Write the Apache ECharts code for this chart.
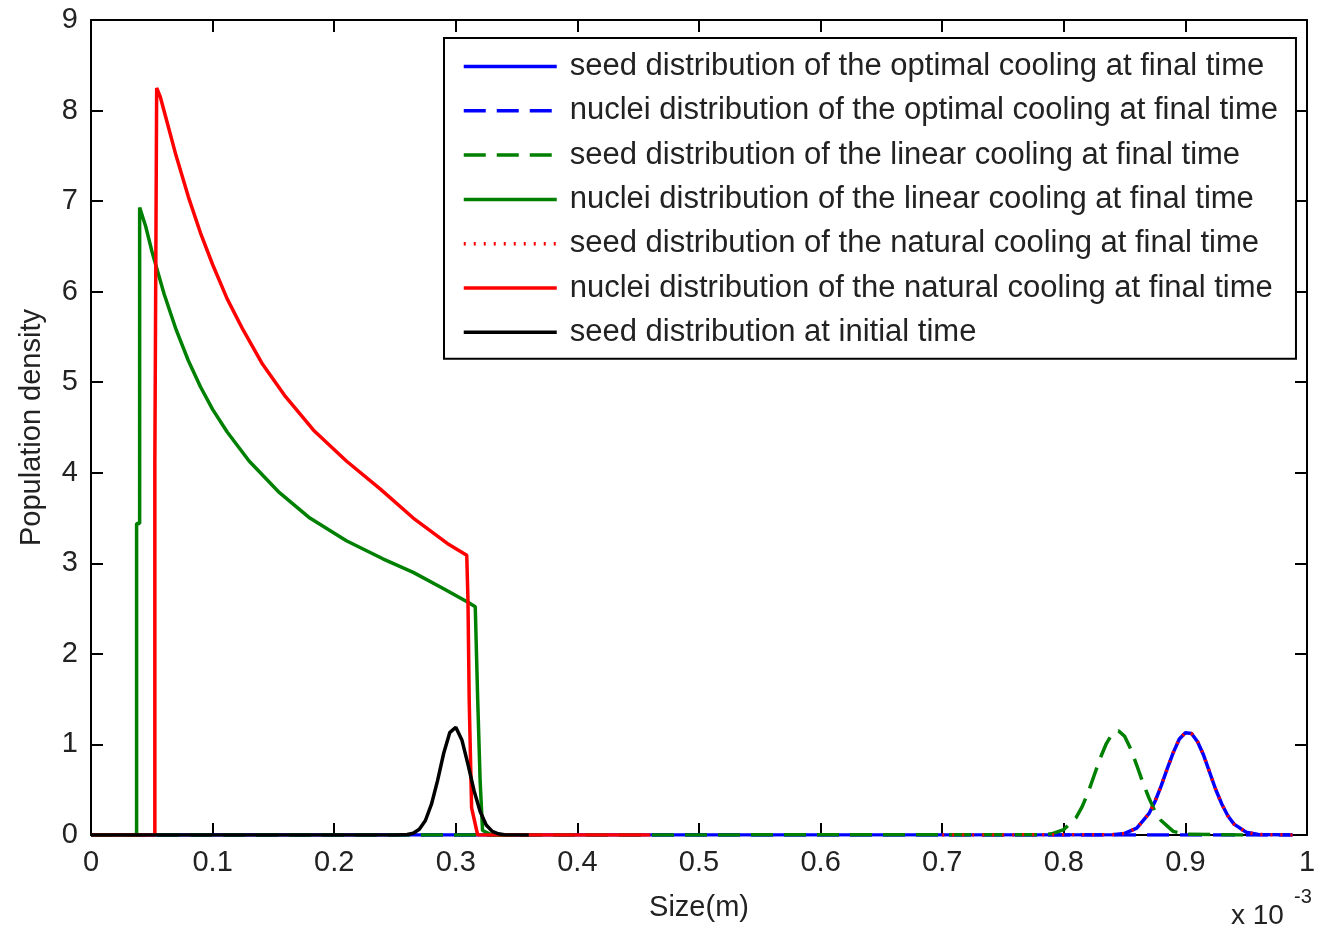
<!DOCTYPE html>
<html>
<head>
<meta charset="utf-8">
<script src="https://cdn.jsdelivr.net/npm/echarts@6/dist/echarts.min.js"></script>
<style>
html,body{margin:0;padding:0;background:#fff;}
#chart{width:1317px;height:933px;}
</style>
</head>
<body>
<div id="chart"></div>
<script>
// x values in units of 1e-3 m (axis shows "x 10^-3")
var xTicks = [0, 0.1, 0.2, 0.3, 0.4, 0.5, 0.6, 0.7, 0.8, 0.9, 1];
var yTicks = [0, 1, 2, 3, 4, 5, 6, 7, 8, 9];

var seriesNames = [
  'seed distribution of the optimal cooling at final time',
  'nuclei distribution of the optimal cooling at final time',
  'seed distribution of the linear cooling at final time',
  'nuclei distribution of the linear cooling at final time',
  'seed distribution of the natural cooling at final time',
  'nuclei distribution of the natural cooling at final time',
  'seed distribution at initial time'
];

var seedOptimal = [[0,0],[0.84,0.003],[0.85,0.018],[0.86,0.075],[0.87,0.235],[0.875,0.37],[0.88,0.54],[0.885,0.73],[0.89,0.91],[0.895,1.06],[0.9,1.13],[0.905,1.12],[0.91,1.03],[0.915,0.88],[0.92,0.69],[0.925,0.50],[0.93,0.34],[0.935,0.21],[0.94,0.12],[0.95,0.03],[0.96,0.006],[0.988,0]];
var nucleiOptimal = [[0,0],[0.988,0]];
var seedLinear = [[0,0],[0.78,0.002],[0.79,0.013],[0.8,0.06],[0.81,0.19],[0.815,0.31],[0.82,0.47],[0.825,0.66],[0.83,0.85],[0.835,1.01],[0.84,1.12],[0.845,1.15],[0.85,1.09],[0.855,0.95],[0.86,0.77],[0.865,0.58],[0.87,0.41],[0.875,0.26],[0.88,0.16],[0.89,0.04],[0.9,0.009],[0.95,0]];
var nucleiLinear = [[0,0],[0.0375,0],[0.0375,3.44],[0.040,3.44],[0.040,6.93],[0.045,6.72],[0.05,6.45],[0.06,5.98],[0.07,5.58],[0.08,5.24],[0.09,4.95],[0.1,4.7],[0.112,4.45],[0.13,4.13],[0.155,3.78],[0.18,3.5],[0.21,3.25],[0.24,3.05],[0.265,2.9],[0.29,2.72],[0.31,2.57],[0.316,2.52],[0.318,1.5],[0.32,0.6],[0.322,0.05],[0.33,0],[0.35,0]];
var seedNatural = [[0.7,0],[0.84,0.003],[0.85,0.018],[0.86,0.075],[0.87,0.235],[0.875,0.37],[0.88,0.54],[0.885,0.73],[0.89,0.91],[0.895,1.06],[0.9,1.13],[0.905,1.12],[0.91,1.03],[0.915,0.88],[0.92,0.69],[0.925,0.50],[0.93,0.34],[0.935,0.21],[0.94,0.12],[0.95,0.03],[0.96,0.006],[0.988,0]];
var nucleiNatural = [[0,0],[0.0525,0],[0.0525,4.1],[0.054,4.1],[0.054,8.25],[0.057,8.15],[0.06,8.0],[0.07,7.5],[0.08,7.05],[0.09,6.65],[0.1,6.3],[0.112,5.92],[0.125,5.58],[0.141,5.2],[0.16,4.84],[0.183,4.47],[0.21,4.13],[0.238,3.82],[0.265,3.5],[0.293,3.22],[0.309,3.09],[0.31,2.6],[0.311,1.5],[0.313,0.3],[0.318,0],[0.46,0]];
var seedInitial = [[0,0],[0.25,0],[0.26,0.006],[0.265,0.02],[0.27,0.064],[0.275,0.16],[0.28,0.34],[0.285,0.60],[0.29,0.90],[0.295,1.13],[0.3,1.19],[0.305,1.05],[0.31,0.78],[0.315,0.49],[0.32,0.26],[0.325,0.11],[0.33,0.04],[0.335,0.013],[0.34,0.003],[0.35,0],[0.36,0]];

var dataSets = [seedOptimal, nucleiOptimal, seedLinear, nucleiLinear, seedNatural, nucleiNatural, seedInitial];
var colors = ['#0000ff', '#0000ff', '#008000', '#008000', '#ff0000', '#ff0000', '#000000'];
var types = ['solid', [22, 11], [22, 11], 'solid', [2, 8], 'solid', 'solid'];

var FONT = '"Liberation Sans", Arial, sans-serif';
var chart = echarts.init(document.getElementById('chart'));

var series = dataSets.map(function (d, i) {
  return {
    name: seriesNames[i],
    type: 'line',
    data: d,
    symbol: 'none',
    showSymbol: false,
    animation: false,
    z: 3 + i,
    lineStyle: { color: colors[i], width: 3.5, type: types[i] },
    itemStyle: { color: colors[i] }
  };
});

function axisCommon() {
  return {
    type: 'value',
    axisLine: { show: true, onZero: false, lineStyle: { color: '#000', width: 2 } },
    axisTick: { show: true, inside: true, length: 12, lineStyle: { color: '#000', width: 2 } },
    splitLine: { show: false }
  };
}

function fmt(list) {
  return function (v) {
    for (var i = 0; i < list.length; i++) if (Math.abs(list[i] - v) < 1e-9) return String(list[i]);
    return '';
  };
}

chart.setOption({
  backgroundColor: '#fff',
  animation: false,
  textStyle: { fontFamily: FONT },
  grid: { left: 91, top: 20, right: 10, bottom: 98, containLabel: false, outerBoundsMode: 'none' },
  xAxis: [
    Object.assign(axisCommon(), {
      min: 0, max: 1, interval: 0.1, position: 'bottom',
      name: 'Size(m)', nameLocation: 'middle', nameGap: 58,
      nameTextStyle: { fontSize: 29, color: '#222', fontFamily: FONT },
      axisLabel: { margin: 13, fontSize: 29, color: '#222', fontFamily: FONT, formatter: fmt(xTicks) }
    }),
    Object.assign(axisCommon(), {
      min: 0, max: 1, interval: 0.1, position: 'top', axisLabel: { show: false }
    })
  ],
  yAxis: [
    Object.assign(axisCommon(), {
      min: 0, max: 9, interval: 1, position: 'left',
      name: 'Population density', nameLocation: 'middle', nameGap: 45,
      nameTextStyle: { fontSize: 29, color: '#222', fontFamily: FONT },
      axisLabel: { margin: 13, fontSize: 29, color: '#222', fontFamily: FONT, formatter: fmt(yTicks) }
    }),
    Object.assign(axisCommon(), {
      min: 0, max: 9, interval: 1, position: 'right', axisLabel: { show: false }
    })
  ],
  legend: {
    orient: 'vertical',
    left: 444,
    top: 38,
    data: seriesNames,
    backgroundColor: '#fff',
    borderColor: '#000',
    borderWidth: 2,
    borderRadius: 0,
    padding: [13, 18, 11, 18],
    itemWidth: 93,
    itemHeight: 14,
    itemGap: 13.3,
    selectedMode: false,
    itemStyle: { opacity: 0 },
    lineStyle: { width: 3.5 },
    textStyle: { fontSize: 31, color: '#222', fontFamily: FONT, lineHeight: 30, padding: [0, 0, 0, 8] }
  },
  graphic: [
    { type: 'text', left: 1231, top: 902, style: { text: 'x 10', fontSize: 28, fill: '#222', fontFamily: FONT } },
    { type: 'text', left: 1294, top: 887, style: { text: '-3', fontSize: 20, fill: '#222', fontFamily: FONT } }
  ],
  series: series
});
</script>
</body>
</html>
